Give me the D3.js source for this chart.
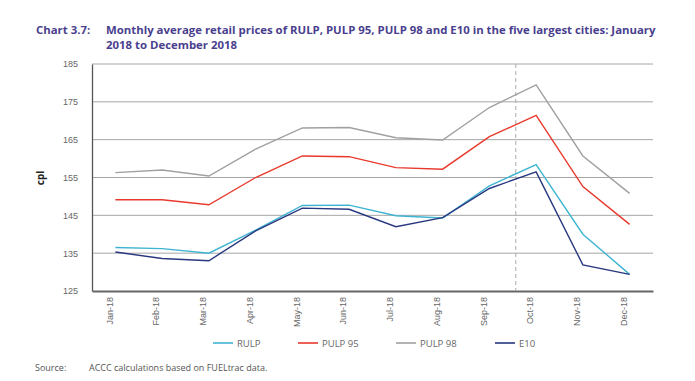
<!DOCTYPE html>
<html><head><meta charset="utf-8">
<script src="https://cdn.jsdelivr.net/npm/d3@7"></script>
<style>body{margin:0;background:#fff;}svg{display:block;font-family:"Open Sans",Lato,sans-serif;}</style>
</head><body><svg id="c" width="695" height="381"></svg>
<script>
const months = ["Jan-18","Feb-18","Mar-18","Apr-18","May-18","Jun-18","Jul-18","Aug-18","Sep-18","Oct-18","Nov-18","Dec-18"];
const rulp   = [136.5,136.2,135.0,141.1,147.6,147.7,144.9,144.3,152.8,158.4,140.0,129.4];
const pulp95 = [149.1,149.1,147.8,155.0,160.7,160.5,157.6,157.2,165.8,171.4,152.6,142.6];
const pulp98 = [156.3,157.0,155.4,162.5,168.1,168.2,165.5,164.9,173.5,179.5,160.7,150.8];
const e10    = [135.3,133.6,133.0,140.9,146.9,146.6,142.0,144.4,152.1,156.5,131.9,129.4];
const yTicks = [125,135,145,155,165,175,185];
const seriesNames = ["RULP","PULP 95","PULP 98","E10"];
const colors = ["#3fb4d2","#e8392c","#a0a0a0","#28377f"];
const series = [rulp,pulp95,pulp98,e10];

const svg = d3.select("#c");
const L=92,R=653,T=64,B=291;
const x = d3.scaleBand().domain(months).range([L,R]);
const xc = m => x(m)+x.bandwidth()/2;
const y = d3.scaleLinear().domain([125,185]).range([B,T]);

// title
const tt = svg.append("g").attr("fill","#4a3f8e").attr("font-weight","700").attr("font-size","11.4px");
tt.append("text").attr("x",36).attr("y",34).text("Chart 3.7:");
tt.append("text").attr("x",106).attr("y",34).text("Monthly average retail prices of RULP, PULP 95, PULP 98 and E10 in the five largest cities: January");
tt.append("text").attr("x",106).attr("y",49).text("2018 to December 2018");

// gridlines
svg.append("g").selectAll("line").data(yTicks.slice(1)).join("line")
  .attr("x1",L).attr("x2",R).attr("y1",d=>y(d)).attr("y2",d=>y(d))
  .attr("stroke","#a6a6a6").attr("stroke-width",1);

// y axis
const ya = svg.append("g").attr("transform",`translate(${L},0)`)
  .call(d3.axisLeft(y).tickValues(yTicks).tickSize(0).tickPadding(14));
ya.select(".domain").attr("stroke","#555").attr("stroke-width",1.3);
ya.selectAll("text").attr("fill","#666").attr("font-size","9px");

// x axis
const xa = svg.append("g").attr("transform",`translate(0,${B})`)
  .call(d3.axisBottom(x).tickSize(0).tickPadding(6));
xa.select(".domain").attr("stroke","#666").attr("stroke-width",2);
xa.selectAll("text").attr("fill","#666").attr("font-size","9px")
  .attr("transform","rotate(-90)").attr("text-anchor","end").attr("dx","-6").attr("dy","-0.3em").attr("y",0);

// cpl label
svg.append("text").attr("transform","translate(44,178) rotate(-90)").attr("text-anchor","middle")
  .attr("font-size","10px").attr("font-weight","700").attr("fill","#222").text("cpl");

// dashed line
const dx = xc("Sep-18") + x.step()*0.565;
svg.append("line").attr("x1",dx).attr("x2",dx).attr("y1",T).attr("y2",B)
  .attr("stroke","#aaa").attr("stroke-dasharray","4,3").attr("stroke-width",1);

// lines
const line = d3.line().x((d,i)=>xc(months[i])).y(d=>y(d));
[2,1,0,3].forEach(k=>{
  svg.append("path").datum(series[k]).attr("d",line).attr("fill","none")
    .attr("stroke",colors[k]).attr("stroke-width",1.4);
});

// legend
const lx = [213,298,396,495];
const lg = svg.append("g").attr("font-size","9.5px").attr("fill","#666");
seriesNames.forEach((n,i)=>{
  lg.append("line").attr("x1",lx[i]).attr("x2",lx[i]+20).attr("y1",343).attr("y2",343)
    .attr("stroke",colors[i]).attr("stroke-width",1.6);
  lg.append("text").attr("x",lx[i]+24).attr("y",346.5).text(n);
});

// source
const sg = svg.append("g").attr("font-size","9px").attr("fill","#555");
sg.append("text").attr("x",35).attr("y",371).text("Source:");
sg.append("text").attr("x",89).attr("y",371).text("ACCC calculations based on FUELtrac data.");
</script></body></html>
